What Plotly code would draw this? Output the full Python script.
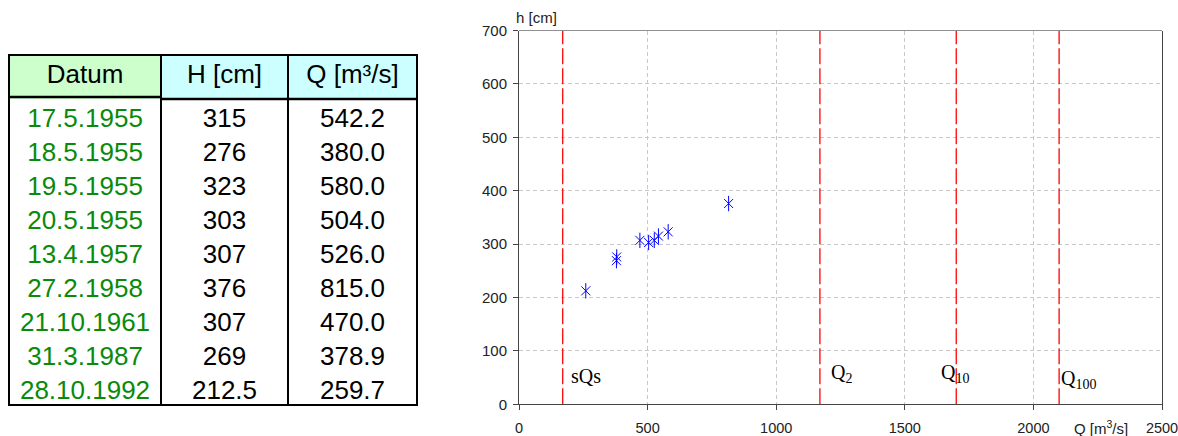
import plotly.graph_objects as go

# ---------------- data ----------------
dates = ["17.5.1955", "18.5.1955", "19.5.1955", "20.5.1955", "13.4.1957",
         "27.2.1958", "21.10.1961", "31.3.1987", "28.10.1992"]
H_cm = [315, 276, 323, 303, 307, 376, 307, 269, 212.5]
Q_m3s = [542.2, 380.0, 580.0, 504.0, 526.0, 815.0, 470.0, 378.9, 259.7]

table_headers = ["Datum", "H [cm]", "Q [m³/s]"]

thresh_names = ["sQs", "Q<sub>2</sub>", "Q<sub>10</sub>", "Q<sub>100</sub>"]
thresh_Q = [170, 1170, 1700, 2100]
thresh_label_h = [53, 57, 58, 46]

x_ticks = [0, 500, 1000, 1500, 2000, 2500]
y_ticks = [0, 100, 200, 300, 400, 500, 600, 700]

# ---------------- layout helpers (window pixels -> paper) ----------------
W, H = 1178, 436
def px(x):
    return x / W
def py(y):
    return 1 - y / H

label_xshift = [6, 9, -17, 0]
FONT = "Liberation Sans, Arial"

fig = go.Figure()

# table
fig.add_trace(go.Table(
    domain=dict(x=[px(9), px(417)], y=[py(414), py(55)]),
    columnwidth=[152, 127, 129],
    header=dict(
        values=table_headers,
        fill_color=["#ccffcc", "#ccffff", "#ccffff"],
        line=dict(color=["#ccffcc", "#ccffff", "#ccffff"], width=0),
        font=dict(family=FONT, size=26, color="black"),
        align="center",
        height=44,
    ),
    cells=dict(
        values=[dates, [f"{h:g}" for h in H_cm], [f"{q:.1f}" for q in Q_m3s]],
        fill_color="white",
        line=dict(color="white", width=0),
        font=dict(family=FONT, size=26, color=["#0a8a0a", "black", "black"]),
        align="center",
        height=34.1,
    ),
))

# table borders
border = dict(color="black", width=2)
shapes = [
    dict(type="rect", xref="paper", yref="paper", x0=px(9), x1=px(417),
         y0=py(405), y1=py(55), line=border),
    dict(type="line", xref="paper", yref="paper", x0=px(161), x1=px(161),
         y0=py(405), y1=py(55), line=border),
    dict(type="line", xref="paper", yref="paper", x0=px(288), x1=px(288),
         y0=py(405), y1=py(55), line=border),
    dict(type="line", xref="paper", yref="paper", x0=px(9), x1=px(161),
         y0=py(97), y1=py(97), line=dict(color="black", width=2.5)),
    dict(type="line", xref="paper", yref="paper", x0=px(161), x1=px(417),
         y0=py(99), y1=py(99), line=dict(color="black", width=2.5)),
    dict(type="rect", xref="paper", yref="paper", x0=px(8), x1=px(418),
         y0=py(414), y1=py(406.2), line=dict(width=0), fillcolor="white"),
    # top border of plot
    dict(type="line", xref="x domain", yref="y domain", x0=0, x1=1, y0=1, y1=1,
         line=dict(color="#909090", width=1)),
]

# threshold lines
for name, q in zip(thresh_names, thresh_Q):
    fig.add_trace(go.Scatter(
        x=[q, q], y=[y_ticks[0], y_ticks[-1]], mode="lines",
        line=dict(color="#ff0000", width=1.3, dash="16px,4px"),
        showlegend=False, hoverinfo="skip", xaxis="x", yaxis="y"))

# scatter points (Excel-like star: x + vertical line)
fig.add_trace(go.Scatter(
    x=Q_m3s, y=H_cm, mode="markers",
    marker=dict(symbol="x-thin-open", size=9, color="blue",
                line=dict(color="blue", width=1)),
    showlegend=False, xaxis="x", yaxis="y"))
fig.add_trace(go.Scatter(
    x=Q_m3s, y=H_cm, mode="markers",
    marker=dict(symbol="line-ns-open", size=11, color="blue",
                line=dict(color="blue", width=1)),
    showlegend=False, xaxis="x", yaxis="y"))

annotations = []
for name, q, hl, xs in zip(thresh_names, thresh_Q, thresh_label_h, label_xshift):
    annotations.append(dict(
        x=q, y=hl, xref="x", yref="y", text=name, showarrow=False,
        xanchor="left", yanchor="middle", xshift=xs,
        font=dict(family="Liberation Serif, Times New Roman", size=20, color="black")))

annotations.append(dict(
    x=px(514), y=py(18), xref="paper", yref="paper", text="h [cm]",
    showarrow=False, xanchor="left", yanchor="middle",
    font=dict(family=FONT, size=15, color="#222")))
annotations.append(dict(
    x=px(1072), y=py(427), xref="paper", yref="paper", text="Q [m<sup>3</sup>/s]",
    showarrow=False, xanchor="left", yanchor="middle",
    font=dict(family=FONT, size=15, color="#222")))

fig.update_layout(
    width=W, height=H,
    margin=dict(l=0, r=0, t=0, b=0, pad=0, autoexpand=False),
    paper_bgcolor="white", plot_bgcolor="white",
    showlegend=False,
    xaxis=dict(
        domain=[px(519), px(1162)], range=[0, 2500],
        tickvals=x_ticks, ticks="outside", ticklen=5, tickcolor="#444",
        showline=True, linecolor="#444", linewidth=1, mirror=False,
        showgrid=True, gridcolor="#c8c8c8", griddash="4px,3px", gridwidth=1,
        zeroline=False, ticklabelstandoff=5, automargin=False,
        ticklabeloverflow="allow",
        tickfont=dict(family=FONT, size=14.5, color="#222"),
        anchor="y",
    ),
    yaxis=dict(
        domain=[py(404.3), py(30.5)], range=[0, 700],
        tickvals=y_ticks, ticks="outside", ticklen=5, tickcolor="#444",
        showline=True, linecolor="#444", linewidth=1, mirror=True,
        showgrid=True, gridcolor="#c8c8c8", griddash="4px,3px", gridwidth=1,
        zeroline=False, ticklabelstandoff=3, automargin=False,
        tickfont=dict(family=FONT, size=15, color="#222"),
        anchor="x",
    ),
    shapes=shapes,
    annotations=annotations,
)

fig.write_html("out.html", config={"displayModeBar": False},
               post_script="document.body.style.margin='0';")
